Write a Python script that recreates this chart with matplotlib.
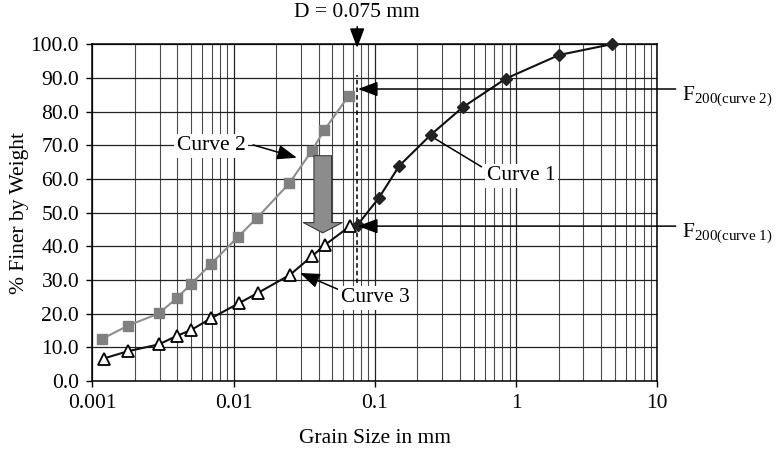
import matplotlib
matplotlib.use("Agg")
import matplotlib.pyplot as plt
from matplotlib.ticker import LogLocator, FixedLocator, NullFormatter

plt.rcParams['font.family'] = ['Liberation Serif', 'DejaVu Serif']
plt.rcParams['mathtext.fontset'] = 'custom'
plt.rcParams['mathtext.rm'] = 'Liberation Serif'
plt.rcParams['mathtext.it'] = 'Liberation Serif:italic'

# grain size (mm) and % finer
c1_size = [0.0756, 0.107, 0.149, 0.249, 0.42, 0.848, 2.02, 4.76]
c1_finer = [46.4, 54.4, 63.9, 73.1, 81.3, 89.8, 96.8, 100.0]

c2_size = [0.00118, 0.0018, 0.00296, 0.00395, 0.00497, 0.00689, 0.0108, 0.0147, 0.0248, 0.0357, 0.0439, 0.0653]
c2_finer = [12.6, 16.5, 20.1, 24.6, 28.7, 34.7, 42.9, 48.5, 58.7, 68.3, 74.5, 84.7]

c3_size = [0.0012, 0.0018, 0.00296, 0.00395, 0.00497, 0.0069, 0.0109, 0.0149, 0.025, 0.0362, 0.0443, 0.0667]
c3_finer = [6.7, 8.9, 10.9, 13.4, 15.1, 18.6, 23.1, 26.2, 31.5, 37.2, 40.4, 46.0]

D200 = 0.075
F200_c1 = 46.0
F200_c2 = 86.7

fs = 15.5
fig = plt.figure(figsize=(7.76, 4.51), dpi=100)
ax = fig.add_axes([0.119, 0.155, 0.728, 0.747])

ax.set_xscale('log')
ax.set_xlim(0.001, 10)
ax.set_ylim(0, 100)
ax.xaxis.set_minor_locator(LogLocator(base=10, subs=range(2, 10), numticks=20))
ax.xaxis.set_minor_formatter(NullFormatter())
ax.set_xticks([0.001, 0.01, 0.1, 1, 10])
ax.set_xticklabels(['0.001', '0.01', '0.1', '1', '10'])
ax.yaxis.set_major_locator(FixedLocator(range(0, 101, 10)))
ax.set_yticklabels(['%.1f' % v for v in range(0, 101, 10)])

ax.grid(True, which='major', color='#222222', lw=0.9)
ax.grid(True, which='minor', axis='x', color='#4a4a4a', lw=0.8)
ax.tick_params(which='major', direction='out', length=4.5, width=1, pad=5, labelsize=fs)
ax.tick_params(which='minor', length=0)
for s in ax.spines.values():
    s.set_linewidth(1.1)
    s.set_color('black')

# dashed line at D = 0.075 mm
ax.plot([D200, D200], [29, 91], ls=(0, (3, 2)), color='black', lw=1.1, zorder=3)

ax.plot(c2_size, c2_finer, color='#8e8e8e', lw=1.5, marker='s', ms=7,
        mfc='#808080', mec='#808080', zorder=4, clip_on=False)
ax.plot(c3_size, c3_finer, color='#111111', lw=1.5, marker='^', ms=8.5,
        mfc='white', mec='black', mew=1.3, zorder=5, clip_on=False)
ax.plot(c1_size, c1_finer, color='#111111', lw=1.5, marker='D', ms=6.5,
        mfc='#222222', mec='#222222', zorder=5, clip_on=False)

# big grey arrow
ax.annotate('', xy=(0.0428, 44.0), xytext=(0.0428, 66.9),
            arrowprops=dict(arrowstyle='simple,head_length=0.74,head_width=2.8,tail_width=1.27',
                            mutation_scale=10, fc='#8c8c8c', ec='#3a3a3a', lw=0.8,
                            shrinkA=0, shrinkB=0), zorder=6)

arr = dict(arrowstyle='-|>,head_length=0.8,head_width=0.3', color='black', lw=1.1,
           mutation_scale=15, shrinkA=0, shrinkB=0)
box = dict(boxstyle='square,pad=0.1', fc='white', ec='none')

ax.annotate('', xy=(0.0281, 66.3), xytext=(0.01374, 70.1), arrowprops=arr, zorder=6)
ax.text(0.00692, 69.8, 'Curve 2', fontsize=fs, ha='center', va='center', bbox=box, zorder=7)

ax.annotate('', xy=(0.252, 72.6), xytext=(0.57, 63.6),
            arrowprops=dict(arrowstyle='-', color='black', lw=1.1, shrinkA=0, shrinkB=0), zorder=4)
ax.text(1.09, 60.9, 'Curve 1', fontsize=fs, ha='center', va='center', bbox=box, zorder=7)

ax.annotate('', xy=(0.0295, 32.1), xytext=(0.0566, 27.0), arrowprops=arr, zorder=6)
ax.text(0.1002, 24.7, 'Curve 3', fontsize=fs, ha='center', va='center', bbox=box, zorder=7)

# D = 0.075 mm
ax.annotate('', xy=(D200, 98.9), xytext=(D200, 105.2), arrowprops=arr,
            annotation_clip=False, zorder=8)
ax.text(D200, 109.5, 'D = 0.075 mm', fontsize=fs, ha='center', va='center', clip_on=False)

# F200 markers
for yv, lab in [(F200_c2, 'curve 2'), (F200_c1, 'curve 1')]:
    ax.annotate('', xy=(0.076, yv), xytext=(13.5, yv), arrowprops=arr,
                annotation_clip=False, zorder=8)
    ax.text(14.9, yv - 3.3, r'F$_{\mathrm{200(' + lab.replace(' ', r'\ ') + ')}}$',
            fontsize=fs, ha='left', va='baseline', clip_on=False)

ax.set_xlabel('Grain Size in mm', fontsize=fs, labelpad=11)
ax.set_ylabel('% Finer by Weight', fontsize=fs, labelpad=1)

fig.savefig('out.png', dpi=100)
